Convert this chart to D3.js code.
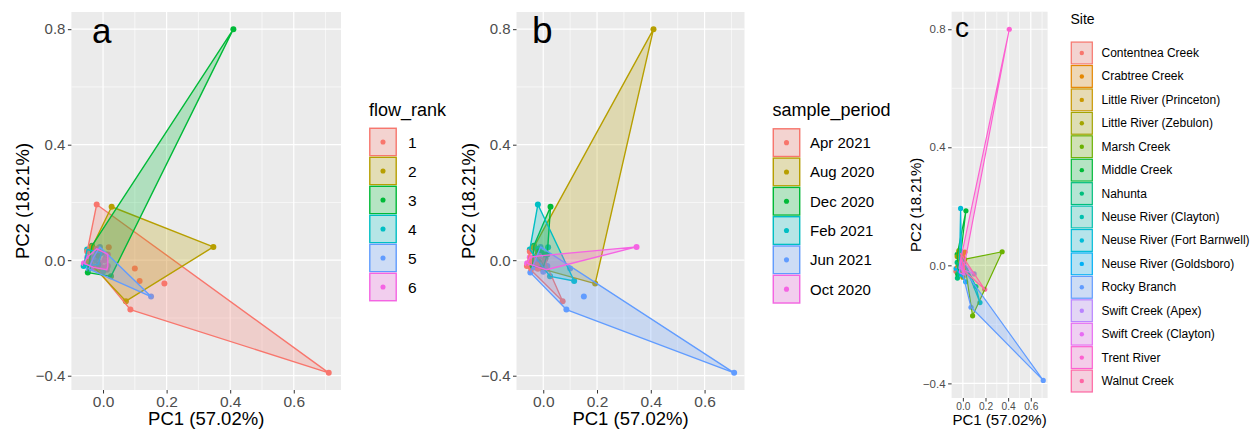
<!DOCTYPE html>
<html><head><meta charset="utf-8">
<script src="https://cdn.jsdelivr.net/npm/d3@7"></script>
<style>body{margin:0;background:#fff;} svg{display:block;}</style>
</head><body><svg id="chart" width="1253" height="434"></svg>
<script>
// ---------------- data ----------------
const siteNames = ["Contentnea Creek","Crabtree Creek","Little River (Princeton)","Little River (Zebulon)",
  "Marsh Creek","Middle Creek","Nahunta","Neuse River (Clayton)","Neuse River (Fort Barnwell)",
  "Neuse River (Goldsboro)","Rocky Branch","Swift Creek (Apex)","Swift Creek (Clayton)","Trent River","Walnut Creek"];
const periodNames = ["Apr 2021","Aug 2020","Dec 2020","Feb 2021","Jun 2021","Oct 2020"];
const flowNames = ["1","2","3","4","5","6"];

const pc1 = [0.41, 0.71, 0.347, -0.02, 0.027, 0.193, 0.086, 0.072, 0.151, 0.10,
  0.115, 0.018, 0.008, 0.025, -0.048, -0.035, -0.061, -0.01, 0.012, -0.06,
  -0.05, -0.05, -0.05, -0.035, -0.045, -0.005, 0.0, -0.025, -0.02, 0.015,
  -0.02, 0.01, -0.045, -0.03, -0.04, -0.005, -0.03, -0.01, -0.02, -0.035,
  -0.015, -0.03, 0.0, 0.005, -0.015, -0.02, 0.015, -0.015];
const pc2 = [0.80, -0.39, 0.046, 0.193, 0.185, -0.081, -0.171, -0.142, -0.126, -0.029,
  -0.072, 0.045, 0.006, -0.056, -0.043, 0.05, -0.02, 0.046, -0.033, -0.011,
  0.01, 0.037, 0.03, 0.045, -0.005, -0.03, -0.025, 0.01, 0.04, -0.02,
  0.0, 0.02, -0.03, 0.0, -0.02, 0.025, 0.01, -0.01, 0.02, -0.01,
  0.03, -0.025, -0.04, 0.0, 0.015, -0.03, 0.02, -0.015];
const sampleSite = [13, 10, 4, 8, 5, 14, 4, 10, 7, 11,
  7, 1, 0, 9, 6, 3, 0, 2, 12, 9,
  6, 5, 3, 2, 1, 1, 13, 13, 14, 14,
  10, 4, 5, 5, 6, 7, 8, 8, 11, 11,
  12, 12, 3, 2, 0, 9, 1, 6];
const samplePeriod = [1, 4, 5, 3, 2, 1, 4, 0, 4, 4,
  3, 3, 2, 3, 4, 2, 0, 4, 5, 5,
  5, 3, 0, 1, 0, 1, 2, 5, 3, 4,
  2, 2, 0, 4, 2, 2, 0, 2, 2, 0,
  2, 4, 4, 0, 5, 0, 2, 0];
const sampleFlow = [3, 1, 2, 1, 2, 1, 1, 2, 5, 1,
  1, 1, 1, 3, 3, 3, 4, 5, 6, 6,
  6, 4, 1, 2, 2, 2, 6, 4, 6, 6,
  4, 5, 5, 4, 3, 4, 5, 6, 5, 4,
  2, 6, 5, 6, 3, 1, 6, 4];

const xTicks = [0, 0.2, 0.4, 0.6];
const yTicks = [-0.4, 0, 0.4, 0.8];
const xMinor = [-0.1, 0.1, 0.3, 0.5, 0.7];
const yMinor = [-0.2, 0.2, 0.6];

const flowColors = ["#F8766D","#B79F00","#00BA38","#00BFC4","#619CFF","#F564E3"];
const periodColors = ["#F8766D","#B79F00","#00BA38","#00BFC4","#619CFF","#F564E3"];
const siteColors = ["#F8766D","#E58700","#C99800","#A3A500","#6BB100","#00BA38","#00BF7D","#00C0AF",
  "#00BCD8","#00B0F6","#619CFF","#B983FF","#E76BF3","#FD61D1","#FF67A4"];

// ---------------- layout ----------------
const FONT = '"Liberation Sans", Arial, Helvetica, sans-serif';
const samples = pc1.map((v, i) => ({pc1: v, pc2: pc2[i], site: sampleSite[i], period: samplePeriod[i], flow: sampleFlow[i] - 1}));

const xExt = d3.extent(pc1), yExt = d3.extent(pc2);
const xPad = (xExt[1] - xExt[0]) * 0.05, yPad = (yExt[1] - yExt[0]) * 0.05;
const xDom = [xExt[0] - xPad, xExt[1] + xPad], yDom = [yExt[0] - yPad, yExt[1] + yPad];

const panels = [
  {key: "flow", names: flowNames, colors: flowColors, title: "flow_rank", letter: "a",
   rect: {x0: 71.4, x1: 341, y0: 12, y1: 390}, letterPos: [92, 43], letterSize: 35,
   tickSize: 15, xTickSize: 15.5, tickPad: 2, titleSize: 18.5, xtitleY: 425, ytitleX: 22, r: 3, sw: 1.4,
   leg: {x: 369, titleY: 116, top: 127.5, step: 29, box: 28, labX: 408, titleSize: 18, labSize: 15.5}},
  {key: "period", names: periodNames, colors: periodColors, title: "sample_period", letter: "b",
   rect: {x0: 516.5, x1: 744.5, y0: 12, y1: 390}, letterPos: [532, 43], letterSize: 37,
   tickSize: 15, xTickSize: 15.5, tickPad: 2, titleSize: 18.5, xtitleY: 425, ytitleX: 468, r: 3, sw: 1.4,
   leg: {x: 772.5, titleY: 116, top: 128, step: 29.3, box: 28, labX: 810, titleSize: 18, labSize: 15}},
  {key: "site", names: siteNames, colors: siteColors, title: "Site", letter: "c",
   rect: {x0: 951.6, x1: 1047.6, y0: 11.7, y1: 398}, letterPos: [955, 37], letterSize: 28,
   tickSize: 11.5, xTickSize: 10.2, tickPad: 1.5, titleSize: 15, xtitleY: 425, ytitleX: 915, r: 2.6, sw: 1.2,
   leg: {x: 1070.5, titleY: 24, top: 41.3, step: 23.43, box: 22.6, labX: 1101.5, titleSize: 14, labSize: 12}}
];

const svg = d3.select("#chart").style("font-family", FONT);

panels.forEach(p => {
  const R = p.rect;
  const x = d3.scaleLinear().domain(xDom).range([R.x0, R.x1]);
  const y = d3.scaleLinear().domain(yDom).range([R.y1, R.y0]);
  const g = svg.append("g");

  g.append("rect").attr("x", R.x0).attr("y", R.y0).attr("width", R.x1 - R.x0).attr("height", R.y1 - R.y0)
    .attr("fill", "#EBEBEB");

  const inX = v => v >= xDom[0] && v <= xDom[1];
  const inY = v => v >= yDom[0] && v <= yDom[1];
  g.selectAll(".mx").data(xMinor.filter(inX)).join("line")
    .attr("x1", d => x(d)).attr("x2", d => x(d)).attr("y1", R.y0).attr("y2", R.y1)
    .attr("stroke", "#fff").attr("stroke-width", 0.6);
  g.selectAll(".my").data(yMinor.filter(inY)).join("line")
    .attr("y1", d => y(d)).attr("y2", d => y(d)).attr("x1", R.x0).attr("x2", R.x1)
    .attr("stroke", "#fff").attr("stroke-width", 0.6);
  g.selectAll(".Mx").data(xTicks).join("line")
    .attr("x1", d => x(d)).attr("x2", d => x(d)).attr("y1", R.y0).attr("y2", R.y1)
    .attr("stroke", "#fff").attr("stroke-width", 1.2);
  g.selectAll(".My").data(yTicks).join("line")
    .attr("y1", d => y(d)).attr("y2", d => y(d)).attr("x1", R.x0).attr("x2", R.x1)
    .attr("stroke", "#fff").attr("stroke-width", 1.2);

  // points
  g.append("g").selectAll("circle").data(samples).join("circle")
    .attr("cx", d => x(d.pc1)).attr("cy", d => y(d.pc2)).attr("r", p.r)
    .attr("fill", d => p.colors[d[p.key]]);

  // hulls
  const groups = d3.group(samples, d => d[p.key]);
  p.names.forEach((nm, gi) => {
    const pts = (groups.get(gi) || []).map(d => [x(d.pc1), y(d.pc2)]);
    if (pts.length < 3) return;
    const hull = d3.polygonHull(pts);
    if (!hull) return;
    g.append("path").attr("d", "M" + hull.map(q => q.join(",")).join("L") + "Z")
      .attr("fill", p.colors[gi]).attr("fill-opacity", 0.25)
      .attr("stroke", p.colors[gi]).attr("stroke-width", p.sw).attr("stroke-linejoin", "round");
  });

  // axes
  const fmt = d3.format(".1f");
  const ax = g.append("g").attr("transform", `translate(0,${R.y1})`)
    .call(d3.axisBottom(x).tickValues(xTicks).tickSize(3.5).tickPadding(p.tickPad).tickFormat(fmt));
  ax.select(".domain").remove();
  ax.attr("font-family", FONT).attr("font-size", p.xTickSize);
  ax.selectAll("line").attr("stroke", "#333");
  ax.selectAll("text").attr("fill", "#4D4D4D");

  const ay = g.append("g").attr("transform", `translate(${R.x0},0)`)
    .call(d3.axisLeft(y).tickValues(yTicks).tickSize(3.5).tickPadding(2.5).tickFormat(fmt));
  ay.select(".domain").remove();
  ay.attr("font-family", FONT).attr("font-size", p.tickSize);
  ay.selectAll("line").attr("stroke", "#333");
  ay.selectAll("text").attr("fill", "#4D4D4D");

  // axis titles
  g.append("text").attr("x", (R.x0 + R.x1) / 2).attr("y", p.xtitleY)
    .attr("text-anchor", "middle").attr("font-size", p.titleSize).attr("fill", "#000").text("PC1 (57.02%)");
  g.append("text").attr("transform", `translate(${p.ytitleX},${(R.y0 + R.y1) / 2}) rotate(-90)`)
    .attr("text-anchor", "middle").attr("dominant-baseline", "central")
    .attr("font-size", p.titleSize).attr("fill", "#000").text("PC2 (18.21%)");

  // panel letter
  g.append("text").attr("x", p.letterPos[0]).attr("y", p.letterPos[1])
    .attr("font-size", p.letterSize).attr("fill", "#000").text(p.letter);

  // legend
  const L = p.leg;
  g.append("text").attr("x", L.x).attr("y", L.titleY).attr("font-size", L.titleSize).attr("fill", "#000").text(p.title);
  p.names.forEach((nm, i) => {
    const top = L.top + i * L.step;
    g.append("rect").attr("x", L.x).attr("y", top).attr("width", L.box).attr("height", L.step)
      .attr("fill", "#F2F2F2");
    g.append("rect").attr("x", L.x + 0.8).attr("y", top + 0.8).attr("width", L.box - 1.6).attr("height", L.step - 1.6)
      .attr("fill", p.colors[i]).attr("fill-opacity", 0.25)
      .attr("stroke", p.colors[i]).attr("stroke-width", p.sw);
    g.append("circle").attr("cx", L.x + L.box / 2).attr("cy", top + L.step / 2).attr("r", p.r * 0.85)
      .attr("fill", p.colors[i]);
    g.append("text").attr("x", L.labX).attr("y", top + L.step / 2).attr("dominant-baseline", "central")
      .attr("font-size", L.labSize).attr("fill", "#000").text(nm);
  });
});
</script></body></html>
